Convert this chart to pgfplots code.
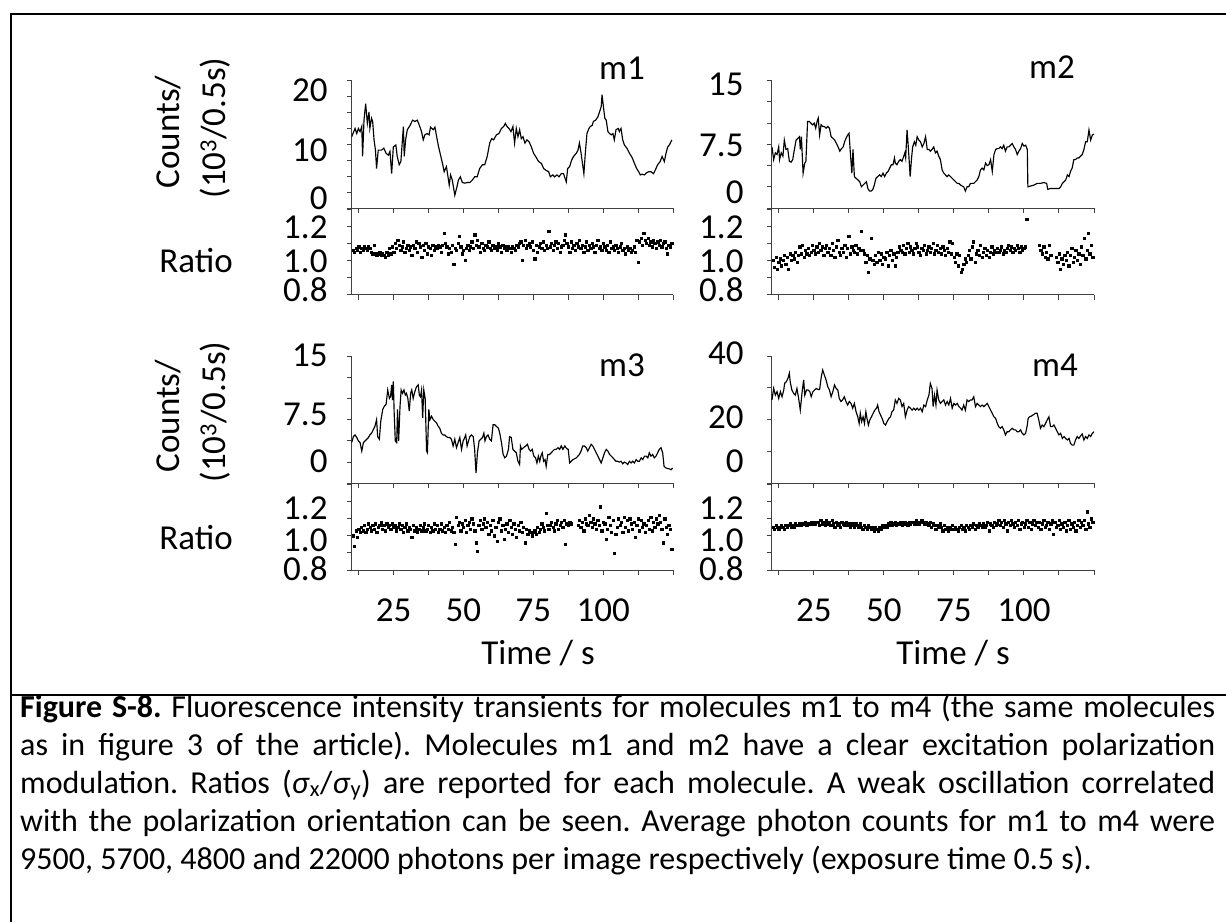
\documentclass[border=0pt]{standalone}
\usepackage{pgfplots}
\pgfplotsset{compat=1.18}
\usepackage{fontspec}
\setmainfont{Carlito}
\newcommand\rb[2]{\raisebox{#1}[\height][\depth]{#2}}
\begin{document}
\begin{tikzpicture}
\pgfplotsset{
  panel/.style={scale only axis, anchor=north west, xmin=10, xmax=125,
    axis x line*=bottom, axis y line*=left,
    axis line style={line width=1pt, black!75, -},
    every tick/.style={line width=1pt, black!75},
    tick align=outside, major tick length=5pt,
    xtick={12.5,25,37.5,50,62.5,75,87.5,100,112.5,125},
    xticklabels={,,,,,,,,,},
    tick label style={font=\fontsize{35}{40}\selectfont},
    yticklabel style={anchor=east, inner sep=0pt},
    xticklabel style={anchor=center, inner sep=0pt, yshift=-35pt},
  },
  cnt/.style={panel, height=127.3pt},
  rat/.style={panel, height=85.7pt, ymin=0.8, ymax=1.3, ytick={0.8,0.9,1.0,1.1,1.2,1.3}},
  trace/.style={black, line width=1.15pt, mark=none},
  dots/.style={only marks, mark=square*, mark size=1.15pt, black},
}
\path[use as bounding box] (0,0) rectangle (1226pt,-922pt);
\draw[line width=2pt] (11pt,-922pt) -- (11pt,-14pt) -- (1226pt,-14pt);
\draw[line width=2pt] (11pt,-695pt) -- (1226pt,-695pt);

% ---------- m1 counts
\begin{axis}[cnt, at={(351.7pt,-80.7pt)}, width=321.3pt, ymin=0, ymax=20,
  ytick={0,2.5,5,7.5,10,12.5,15,17.5,20},
  yticklabels={\rb{10pt}{0},,,,\rb{-6pt}{10},,,,\rb{-10pt}{20}},
  yticklabel style={xshift=-19pt}]
\addplot[trace] coordinates {(10.0,11.2) (11.2,12.5) (11.8,11.7) (12.4,12.5) (13.0,12.0) (13.6,12.8) (13.9,8.1) (14.4,13.8) (15.0,16.4) (15.6,13.3) (16.2,15.1) (16.5,12.5) (17.1,14.1) (17.5,13.6) (18.0,10.7) (18.5,9.1) (18.9,6.2) (19.5,9.1) (20.7,9.1) (21.5,9.4) (22.3,8.6) (23.1,8.3) (23.7,8.9) (24.3,5.4) (24.9,9.6) (25.8,9.9) (26.3,8.1) (27.0,6.8) (27.6,7.3) (28.5,12.8) (28.8,8.1) (29.3,10.7) (29.9,12.3) (30.8,12.9) (31.8,13.8) (32.6,13.6) (33.5,13.8) (34.2,13.0) (35.0,12.0) (35.6,10.7) (36.2,11.5) (37.0,11.7) (37.7,11.5) (38.2,12.7) (39.2,12.3) (39.8,12.7) (40.4,11.2) (41.1,9.6) (41.8,8.3) (42.5,7.0) (43.1,5.7) (43.9,6.5) (44.3,5.4) (44.9,3.6) (45.4,5.2) (46.0,4.4) (46.9,2.0) (47.7,3.4) (48.2,4.4) (48.9,4.9) (49.6,4.0) (50.5,3.9) (51.3,4.0) (52.3,4.0) (53.2,4.4) (54.0,4.9) (54.9,4.9) (55.8,6.2) (56.8,6.8) (57.6,6.8) (58.5,8.1) (59.4,10.2) (60.1,10.9) (60.8,10.7) (61.8,11.5) (62.7,11.7) (63.6,12.5) (64.4,12.8) (65.0,13.3) (65.6,12.8) (66.3,12.5) (67.0,12.0) (67.7,12.8) (68.3,10.2) (68.9,12.5) (69.5,11.2) (70.1,12.3) (70.7,10.9) (71.3,11.2) (72.0,10.2) (72.7,10.7) (73.5,10.4) (74.3,9.6) (75.1,8.6) (76.1,7.9) (76.9,7.3) (77.9,7.0) (78.7,6.2) (79.6,5.9) (80.5,5.7) (81.1,4.9) (82.0,5.2) (82.6,4.9) (83.5,5.2) (84.2,4.9) (85.0,5.4) (85.8,5.4) (86.8,4.1) (87.3,6.2) (88.0,6.5) (88.7,7.5) (89.4,8.1) (90.4,8.6) (91.0,9.1) (91.5,10.2) (92.1,8.6) (93.1,5.4) (93.7,9.1) (94.2,11.7) (94.9,12.5) (95.4,12.8) (96.1,13.0) (96.5,13.6) (97.3,13.8) (98.1,14.3) (98.7,15.1) (99.3,15.9) (99.6,17.8) (100.1,15.9) (100.6,14.1) (101.1,13.8) (101.7,12.0) (102.3,11.7) (102.9,11.5) (103.5,11.7) (104.0,10.7) (104.6,12.3) (105.4,12.5) (105.8,12.0) (106.4,12.5) (107.0,10.7) (107.6,9.9) (108.5,9.4) (109.4,8.6) (110.4,7.9) (111.2,7.0) (112.0,6.2) (112.7,5.7) (113.3,5.2) (113.9,5.3) (114.8,5.2) (115.4,5.5) (116.3,5.7) (117.1,5.7) (118.0,5.4) (118.7,6.0) (119.5,6.8) (120.4,7.3) (121.1,8.1) (121.9,7.3) (122.5,8.6) (123.1,9.6) (123.7,9.9) (124.6,10.7)};
\end{axis}

% ---------- m1 ratio
\begin{axis}[rat, at={(351.7pt,-209pt)}, width=321.3pt,
  yticklabels={\rb{5pt}{0.8},,\rb{-1pt}{1.0},,\rb{-1pt}{1.2},},
  yticklabel style={xshift=-19pt}]
\addplot[dots] coordinates {
(10.5,1.06)(11,1.05)(11.5,1.07)(12,1.06)(12.5,1.08)(13,1.05)(13.5,1.07)(14,1.06)(14.5,1.08)(15,1.07)
(15.5,1.06)(16,1.08)(16.5,1.07)(17,1.05)(17.5,1.04)(18,1.09)(18.5,1.04)(19,1.03)(19.5,1.04)(20,1.05)
(20.5,1.03)(21,1.04)(21.5,1.03)(22,1.02)(22.5,1.05)(23,1.03)(23.5,1.07)(24,1.04)(24.5,1.08)(25,1.05)
(25.5,1.10)(26,1.07)(26.5,1.12)(27,1.09)(27.5,1.06)(28,1.08)(28.5,1.11)(29,1.05)(29.5,1.07)(30,1.09)
(30.5,1.06)(31,1.08)(31.5,1.03)(32,1.09)(32.5,1.07)(33,1.11)(33.5,1.05)(34,1.10)(34.5,1.08)(35,1.02)
(35.5,1.09)(36,1.06)(36.5,1.10)(37,1.04)(37.5,1.08)(38,1.07)(38.5,1.03)(39,1.09)(39.5,1.06)(40,1.08)
(40.5,1.07)(41,1.09)(41.5,1.08)(42,1.05)(42.5,1.09)(43,1.16)(43.5,1.10)(44,1.08)(44.5,1.04)(45,1.07)
(45.5,1.05)(46,1.09)(46.5,0.98)(47,1.07)(47.5,1.06)(48,1.10)(48.5,1.14)(49,1.08)(49.5,1.04)(50,1.06)
(50.5,1.00)(51,1.07)(51.5,1.09)(52,1.06)(52.5,1.08)(53,1.11)(53.5,1.07)(54,1.15)(54.5,1.09)(55,1.12)
(55.5,1.08)(56,1.05)(56.5,1.10)(57,1.07)(57.5,1.06)(58,1.09)(58.5,1.08)(59,1.11)(59.5,1.07)(60,1.06)
(60.5,1.09)(61,1.07)(61.5,1.08)(62,1.06)(62.5,1.10)(63,1.08)(63.5,1.05)(64,1.09)(64.5,1.07)(65,1.08)
(65.5,1.06)(66,1.08)(66.5,1.07)(67,1.05)(67.5,1.08)(68,1.07)(68.5,1.06)(69,1.09)(69.5,1.08)(70,1.10)
(70.5,1.11)(71,1.00)(71.5,1.09)(72,1.12)(72.5,1.07)(73,1.09)(73.5,1.10)(74,1.08)(74.5,1.11)(75,1.06)
(75.5,1.01)(76,1.09)(76.5,1.05)(77,1.08)(77.5,1.10)(78,1.07)(78.5,1.11)(79,1.06)(79.5,1.09)(80,1.07)
(80.5,1.17)(81,1.08)(81.5,1.10)(82,1.06)(82.5,1.09)(83,1.11)(83.5,1.07)(84,1.10)(84.5,1.05)(85,1.08)
(85.5,1.09)(86,1.12)(86.5,1.15)(87,1.10)(87.5,1.08)(88,1.05)(88.5,1.11)(89,1.07)(89.5,1.09)(90,1.06)
(90.5,1.10)(91,1.08)(91.5,1.12)(92,1.07)(92.5,1.09)(93,1.05)(93.5,1.08)(94,1.11)(94.5,1.06)(95,1.09)
(95.5,1.07)(96,1.10)(96.5,1.08)(97,1.05)(97.5,1.09)(98,1.12)(98.5,1.07)(99,1.08)(99.5,1.06)(100,1.10)
(100.5,1.08)(101,1.06)(101.5,1.09)(102,1.05)(102.5,1.11)(103,1.07)(103.5,1.08)(104,1.06)(104.5,1.09)(105,1.07)
(105.5,1.05)(106,1.08)(106.5,1.10)(107,1.06)(107.5,1.07)(108,1.04)(108.5,1.08)(109,1.06)(109.5,1.07)(110,1.05)
(110.5,1.06)(111,1.08)(111.5,1.05)(112,1.12)(112.5,0.99)(113,1.11)(113.5,1.13)(114,1.09)(114.5,1.16)(115,1.12)
(115.5,1.10)(116,1.13)(116.5,1.09)(117,1.11)(117.5,1.08)(118,1.12)(118.5,1.10)(119,1.07)(119.5,1.11)(120,1.09)
(120.5,1.12)(121,1.08)(121.5,1.10)(122,1.11)(122.5,1.07)(123,1.04)(123.5,1.09)(124,1.08)(124.5,1.10)};
\end{axis}

% ---------- m2 counts
\begin{axis}[cnt, at={(771.7pt,-80.7pt)}, width=322.3pt, ymin=0, ymax=15,
  ytick={0,2.5,5,7.5,10,12.5,15},
  yticklabels={\rb{16pt}{0},,,\rb{-1pt}{7.5},,,\rb{-4pt}{15}},
  yticklabel style={xshift=-23pt}]
\addplot[trace] coordinates {(10.1,7.2)(10.7,5.7)(11.3,6.5)(11.9,6.3)(12.5,7.2)(12.8,5.7)(13.4,6.5)(14.0,6.1)(14.5,8.0)(15.1,6.9)(15.7,7.0)(16.3,5.5)(16.9,5.4)(17.5,5.7)(18.1,6.9)(18.7,8.0)(19.3,8.2)(19.9,8.4)(20.2,6.9)(20.6,8.4)(21.2,4.1)(21.8,5.3)(22.2,5.5)(22.8,10.2)(23.4,10.2)(24.0,10.0)(24.6,9.8)(25.2,10.0)(25.7,9.4)(26.2,10.2)(26.6,10.6)(27.1,8.6)(27.6,9.8)(28.2,9.6)(28.8,9.6)(29.4,9.4)(30.0,9.6)(30.6,9.4)(31.2,8.4)(31.9,8.2)(32.5,8.0)(33.1,7.6)(33.7,7.2)(34.3,6.7)(34.9,7.0)(35.5,7.2)(36.0,7.8)(36.5,8.2)(37.1,8.6)(37.6,8.8)(38.1,6.3)(38.6,4.1)(39.0,6.9)(39.5,3.7)(40.1,3.5)(40.8,3.3)(41.4,3.1)(42.0,2.5)(42.6,2.7)(43.2,2.9)(43.8,3.1)(44.3,2.3)(44.9,2.0)(45.5,2.0)(46.1,2.2)(46.6,2.7)(47.2,3.5)(47.8,3.7)(48.5,3.9)(49.1,3.7)(49.7,4.1)(50.3,3.7)(50.9,4.1)(51.5,4.3)(52.1,4.7)(52.7,5.1)(53.3,5.1)(53.8,5.9)(54.1,5.3)(54.7,5.1)(55.3,5.5)(55.9,5.7)(56.5,5.5)(57.1,6.1)(57.5,6.5)(57.8,5.9)(58.3,9.2)(58.8,6.9)(59.4,3.7)(59.9,5.9)(60.3,7.2)(60.9,7.8)(61.4,7.4)(61.9,8.4)(62.5,8.0)(63.1,7.8)(63.7,7.2)(64.3,7.6)(64.9,8.4)(65.5,6.9)(66.1,6.9)(66.6,6.7)(67.2,6.9)(67.8,7.2)(68.4,6.5)(69.0,6.7)(69.6,6.1)(70.2,5.7)(70.8,4.5)(71.4,4.1)(72.0,3.9)(72.6,3.7)(73.2,3.9)(73.8,3.7)(74.4,3.5)(75.0,3.3)(75.6,3.1)(76.2,2.9)(76.8,2.9)(77.4,2.7)(77.9,2.6)(78.5,2.5)(79.1,2.0)(79.7,2.5)(80.3,2.5)(80.9,2.9)(81.5,2.9)(82.1,2.9)(82.7,3.1)(83.3,3.3)(83.9,3.7)(84.5,4.5)(85.1,4.7)(85.7,4.5)(86.3,5.3)(86.9,5.0)(87.5,5.1)(88.1,5.7)(88.7,4.3)(89.3,6.3)(89.9,6.9)(90.5,7.0)(91.0,7.0)(91.6,7.2)(92.2,7.0)(92.8,7.4)(93.4,6.7)(94.0,7.2)(94.6,7.2)(95.2,7.4)(95.8,7.6)(96.4,7.2)(97.0,6.9)(97.6,6.3)(98.2,6.7)(98.8,7.0)(99.4,7.6)(100.0,7.3)(100.6,7.4)(101.2,6.9)(101.4,2.5)(102.4,2.6)(103.6,2.7)(104.7,2.9)(105.9,2.9)(107.1,3.0)(108.1,2.9)(108.5,2.2)(109.5,2.3)(110.7,2.3)(111.9,2.3)(112.5,2.3)(113.1,2.5)(113.7,2.9)(114.3,3.1)(114.9,3.3)(115.5,3.9)(116.1,3.7)(116.6,4.3)(117.2,4.7)(117.8,5.7)(118.4,5.7)(119.0,5.9)(119.6,5.9)(120.2,6.1)(120.8,6.3)(121.4,6.9)(122.0,7.8)(122.6,7.8)(123.2,9.2)(123.8,8.0)(124.4,8.6)(125.0,8.7)};
\end{axis}

% ---------- m2 ratio
\begin{axis}[rat, at={(771.7pt,-209pt)}, width=322.3pt,
  yticklabels={\rb{5pt}{0.8},,\rb{-1pt}{1.0},,\rb{-1pt}{1.2},},
  yticklabel style={xshift=-23pt}]
\addplot[dots] coordinates {
(10.5,1.00)(11,0.96)(11.5,1.02)(12,0.95)(12.5,0.99)(13,1.01)(13.5,0.97)(14,1.00)(14.5,1.03)(15,0.98)
(15.5,1.02)(16,0.95)(16.5,1.04)(17,1.00)(17.5,1.03)(18,1.01)(18.5,1.05)(19,0.99)(19.5,1.03)(20,1.08)
(20.5,1.04)(21,1.09)(21.5,1.02)(22,1.06)(22.5,1.04)(23,1.07)(23.5,1.03)(24,1.05)(24.5,1.09)(25,1.06)
(25.5,1.04)(26,1.08)(26.5,1.05)(27,1.10)(27.5,1.06)(28,1.08)(28.5,1.03)(29,1.07)(29.5,1.09)(30,1.05)
(30.5,1.07)(31,1.03)(31.5,1.10)(32,1.06)(32.5,1.02)(33,1.08)(33.5,1.12)(34,1.05)(34.5,1.03)(35,1.07)
(35.5,1.05)(36,1.09)(36.5,1.02)(37,1.07)(37.5,1.14)(38,1.04)(38.5,1.08)(39,1.06)(39.5,1.05)(40,1.09)
(40.5,1.04)(41,1.07)(41.5,1.06)(42,1.17)(42.5,1.06)(43,1.04)(43.5,0.99)(44,1.03)(44.5,0.93)(45,1.01)
(45.5,1.13)(46,1.00)(46.5,0.98)(47,1.03)(47.5,0.99)(48,1.05)(48.5,1.00)(49,1.04)(49.5,0.98)(50,1.02)
(50.5,1.01)(51,1.05)(51.5,0.97)(52,1.03)(52.5,1.06)(53,1.00)(53.5,1.04)(54,0.97)(54.5,1.02)(55,1.05)
(55.5,1.08)(56,1.06)(56.5,1.05)(57,1.09)(57.5,1.04)(58,1.07)(58.5,1.10)(59,1.05)(59.5,1.08)(60,1.06)
(60.5,1.04)(61,1.07)(61.5,1.10)(62,1.08)(62.5,1.05)(63,1.03)(63.5,1.07)(64,1.06)(64.5,1.09)(65,1.04)
(65.5,1.06)(66,1.08)(66.5,1.05)(67,1.07)(67.5,1.10)(68,1.04)(68.5,1.06)(69,1.09)(69.5,1.05)(70,1.07)
(70.5,1.04)(71,1.08)(71.5,1.06)(72,1.03)(72.5,1.07)(73,1.05)(73.5,1.11)(74,1.04)(74.5,1.10)(75,1.02)
(75.5,0.99)(76,1.04)(76.5,0.97)(77,1.03)(77.5,0.93)(78,0.95)(78.5,0.98)(79,1.01)(79.5,0.99)(80,1.03)
(80.5,1.06)(81,1.01)(81.5,1.08)(82,1.11)(82.5,0.99)(83,1.04)(83.5,1.06)(84,1.03)(84.5,1.09)(85,1.02)
(85.5,1.05)(86,1.07)(86.5,1.03)(87,1.06)(87.5,1.02)(88,1.05)(88.5,1.08)(89,1.04)(89.5,1.06)(90,1.05)
(90.5,1.07)(91,1.05)(91.5,1.06)(92,1.08)(92.5,1.04)(93,1.06)(93.5,1.05)(94,1.07)(94.5,1.09)(95,1.06)
(95.5,1.08)(96,1.05)(96.5,1.07)(97,1.06)(97.5,1.09)(98,1.07)(98.5,1.05)(99,1.08)(99.5,1.06)(100,1.07)
(100.5,1.08)(101,1.24)
(105.5,1.09)(106,1.06)(106.5,1.04)(107,1.08)(107.5,1.02)(108,1.05)(108.5,1.01)(109,1.09)(109.5,1.03)
(111.5,1.02)(112,0.99)(112.5,1.04)(113,0.95)(113.5,1.01)(114,0.98)(114.5,1.03)(115,1.00)
(115.5,1.05)(116,0.97)(116.5,1.03)(117,1.07)(117.5,0.99)(118,1.02)(118.5,1.06)(119,1.00)(119.5,1.04)(120,0.98)
(120.5,1.08)(121,1.03)(121.5,1.13)(122,1.01)(122.5,1.06)(123,1.16)(123.5,1.04)(124,1.09)(124.5,1.02)};
\end{axis}

% ---------- m3 counts
\begin{axis}[cnt, at={(351.7pt,-356pt)}, width=321.3pt, ymin=0, ymax=15,
  ytick={0,2.5,5,7.5,10,12.5,15},
  yticklabels={\rb{22pt}{0},,,\rb{5pt}{7.5},,,\rb{1pt}{15}},
  yticklabel style={xshift=-19pt}]
\addplot[trace] coordinates {(10.0,4.8)(10.6,5.5)(11.2,5.7)(11.8,5.4)(12.4,5.0)(13.0,4.8)(13.6,3.8)(14.2,4.8)(14.8,5.0)(15.4,5.2)(16.0,5.4)(16.5,5.7)(17.1,5.9)(17.7,6.3)(18.3,6.7)(18.9,7.5)(19.3,5.5)(19.9,5.2)(20.4,7.3)(21.1,8.7)(21.7,9.1)(22.3,9.3)(22.9,11.0)(23.5,10.0)(23.9,10.2)(24.3,11.6)(24.6,9.8)(24.9,12.0)(25.2,8.3)(25.6,5.0)(26.1,4.8)(26.4,8.7)(26.8,5.0)(27.3,9.1)(27.7,11.0)(28.2,10.6)(28.7,11.0)(29.2,10.4)(29.6,10.6)(30.1,10.0)(30.6,8.5)(31.1,10.6)(31.5,11.0)(32.0,10.0)(32.6,10.8)(33.2,11.4)(33.8,11.6)(34.2,10.4)(34.6,10.2)(35.0,11.0)(35.4,7.7)(35.8,11.0)(36.3,10.0)(36.8,3.8)(37.1,3.6)(37.6,8.7)(38.0,7.5)(38.6,7.9)(39.2,7.5)(39.8,7.3)(40.4,7.1)(41.0,6.7)(41.5,6.5)(42.1,5.9)(42.7,5.7)(43.3,5.7)(43.9,5.5)(44.5,5.4)(45.1,5.4)(45.7,5.2)(46.3,4.4)(46.9,5.2)(47.5,4.2)(48.1,4.8)(48.7,5.4)(49.3,4.0)(49.9,5.0)(50.2,5.2)(50.8,5.7)(51.3,4.4)(51.8,5.0)(52.3,5.5)(52.9,5.7)(53.5,5.5)(54.0,4.0)(54.5,1.2)(55.0,3.6)(55.6,5.0)(56.2,5.2)(56.8,5.4)(57.3,5.9)(57.7,5.0)(58.2,5.5)(58.8,5.7)(59.4,5.2)(60.0,5.0)(60.6,6.9)(61.2,6.9)(61.8,6.7)(62.5,6.5)(63.0,5.9)(63.6,4.8)(64.2,3.4)(64.8,3.0)(65.4,3.2)(66.1,4.0)(66.5,5.5)(67.1,5.4)(67.7,4.0)(68.3,3.8)(68.9,3.6)(69.5,2.6)(70.1,2.2)(70.4,4.4)(70.8,4.0)(71.5,4.2)(72.3,4.4)(72.9,4.6)(73.5,4.0)(74.0,3.8)(74.6,4.0)(75.2,3.2)(75.8,3.0)(76.3,2.4)(76.8,3.2)(77.3,2.6)(77.7,3.2)(78.2,3.6)(78.7,2.6)(79.2,2.8)(79.6,2.0)(80.2,3.4)(80.8,3.4)(81.4,3.6)(82.0,3.8)(82.6,4.0)(83.2,4.0)(83.8,4.2)(84.4,4.0)(85.0,4.4)(85.6,4.0)(86.3,4.4)(86.9,4.1)(87.5,4.0)(88.0,2.4)(88.6,2.6)(89.2,2.8)(90.4,3.0)(91.5,3.4)(92.1,3.8)(92.7,4.4)(93.3,4.4)(93.9,4.2)(94.5,3.8)(95.1,4.2)(95.7,4.6)(96.3,4.4)(96.9,4.0)(97.5,3.6)(98.1,3.2)(98.7,2.8)(99.3,2.4)(99.9,3.0)(100.5,3.6)(101.1,4.0)(101.7,3.8)(102.3,3.4)(102.9,3.2)(103.5,3.0)(104.0,2.8)(104.6,2.6)(105.2,2.6)(105.8,2.5)(106.4,2.6)(107.0,2.3)(107.6,2.5)(108.2,2.4)(108.8,2.2)(109.4,2.6)(110.0,2.4)(110.6,2.6)(111.2,2.4)(111.8,2.8)(112.4,2.6)(113.0,2.6)(113.6,3.0)(114.2,2.8)(114.8,3.2)(115.4,3.2)(116.0,3.0)(116.5,3.6)(117.1,3.2)(117.7,3.4)(118.3,3.0)(118.9,3.2)(119.5,3.6)(120.1,4.0)(120.7,4.2)(121.3,3.6)(121.8,2.0)(122.5,1.8)(123.7,1.7)(124.3,1.6)(124.9,1.8)};
\end{axis}

% ---------- m3 ratio
\begin{axis}[rat, at={(351.7pt,-484.3pt)}, width=321.3pt,
  yticklabels={\rb{1pt}{0.8},,\rb{-5pt}{1.0},,\rb{-7pt}{1.2},},
  xticklabels={,25,,50,,75,,100,,},
  yticklabel style={xshift=-19pt}]
\addplot[dots] coordinates {
(10.5,1.00)(11,0.94)(11.5,1.03)(12,0.99)(12.5,1.04)(13,1.02)(13.5,1.05)(14,1.03)(14.5,1.06)(15,1.02)
(15.5,1.04)(16,1.07)(16.5,1.05)(17,1.03)(17.5,1.06)(18,1.04)(18.5,1.07)(19,1.02)(19.5,1.05)(20,1.06)
(20.5,1.08)(21,1.04)(21.5,1.06)(22,1.03)(22.5,1.07)(23,1.05)(23.5,1.06)(24,1.04)(24.5,1.07)(25,1.05)
(25.5,1.06)(26,1.03)(26.5,1.05)(27,1.07)(27.5,1.04)(28,1.06)(28.5,1.02)(29,1.05)(29.5,1.07)(30,1.03)
(30.5,1.05)(31,1.04)(31.5,0.99)(32,1.06)(32.5,1.03)(33,1.05)(33.5,1.02)(34,1.04)(34.5,1.06)(35,1.03)
(35.5,1.05)(36,1.07)(36.5,1.03)(37,1.04)(37.5,1.06)(38,1.02)(38.5,1.05)(39,1.03)(39.5,1.07)(40,1.04)
(40.5,1.06)(41,1.02)(41.5,1.04)(42,1.07)(42.5,1.03)(43,1.05)(43.5,1.02)(44,1.06)(44.5,1.04)(45,1.08)
(45.5,1.03)(46,1.05)(46.5,1.02)(47,0.95)(47.5,1.11)(48,1.06)(48.5,1.08)(49,1.03)(49.5,1.07)(50,1.05)
(50.5,1.09)(51,1.02)(51.5,1.06)(52,1.08)(52.5,1.04)(53,1.10)(53.5,1.07)(54,1.03)(54.5,0.96)(55,0.91)
(55.5,1.06)(56,1.09)(56.5,1.04)(57,1.07)(57.5,1.10)(58,1.05)(58.5,1.08)(59,1.01)(59.5,1.06)(60,1.03)
(60.5,1.09)(61,1.00)(61.5,1.05)(62,0.97)(62.5,1.08)(63,1.10)(63.5,1.03)(64,1.06)(64.5,0.98)(65,1.04)
(65.5,1.07)(66,1.02)(66.5,1.09)(67,1.05)(67.5,1.01)(68,1.07)(68.5,1.04)(69,0.99)(69.5,1.06)(70,1.03)
(70.5,1.08)(71,1.02)(71.5,1.05)(72,0.96)(72.5,1.04)(73,1.01)(73.5,1.03)(74,1.02)(74.5,1.00)(75,1.02)
(75.5,1.03)(76,1.01)(76.5,1.05)(77,1.02)(77.5,1.04)(78,1.07)(78.5,1.05)(79,1.03)(79.5,1.13)(80,1.06)
(80.5,1.04)(81,1.06)(81.5,1.08)(82,1.05)(82.5,1.03)(83,1.07)(83.5,1.09)(84,1.04)(84.5,1.06)(85,1.08)
(85.5,1.05)(86,1.09)(86.5,0.95)(87,1.07)(87.5,1.06)(88,1.08)(88.5,1.07)
(91,1.06)(91.5,1.09)(92,1.05)(92.5,1.08)(93,1.03)(93.5,1.10)(94,1.07)(94.5,1.06)(95,1.12)
(95.5,1.08)(96,1.05)(96.5,1.10)(97,1.07)(97.5,1.04)(98,1.09)(98.5,1.06)(99,1.17)(99.5,1.03)(100,1.08)
(100.5,1.07)(101,0.98)(101.5,1.04)(102,1.11)(102.5,1.06)(103,1.02)(103.5,1.09)(104,0.90)(104.5,1.01)(105,1.05)
(105.5,1.10)(106,1.06)(106.5,1.08)(107,1.02)(107.5,1.11)(108,1.05)(108.5,1.09)(109,1.03)(109.5,1.10)(110,1.07)
(110.5,1.04)(111,1.08)(111.5,0.99)(112,1.06)(112.5,1.10)(113,1.03)(113.5,1.09)(114,1.05)(114.5,1.07)(115,1.02)
(115.5,1.06)(116,1.09)(116.5,1.04)(117,1.11)(117.5,1.03)(118,1.08)(118.5,1.05)(119,1.10)(119.5,1.07)(120,1.12)
(120.5,1.08)(121,1.04)(121.5,0.96)(122,1.10)(122.5,1.05)(123,1.01)(123.5,1.06)(124,1.04)(124.5,0.92)};
\end{axis}

% ---------- m4 counts
\begin{axis}[cnt, at={(771.7pt,-356pt)}, width=322.3pt, ymin=0, ymax=40,
  ytick={0,10,20,30,40},
  yticklabels={\rb{22pt}{0},,\rb{2pt}{20},,\rb{3pt}{40}},
  yticklabel style={xshift=-23pt}]
\addplot[trace] coordinates {(10.1,26.2)(10.7,29.8)(11.3,27.7)(11.9,28.8)(12.5,26.7)(13.1,28.8)(13.7,27.2)(14.3,29.3)(14.6,31.4)(15.2,31.9)(15.8,33.0)(16.3,34.6)(16.6,31.9)(17.2,29.3)(17.8,28.3)(18.4,27.7)(19.0,29.8)(19.6,26.7)(20.2,23.0)(20.8,28.3)(21.4,32.5)(21.8,27.7)(22.4,29.3)(23.0,29.3)(23.6,28.8)(24.1,27.2)(24.7,28.8)(25.3,29.3)(25.9,29.8)(26.5,29.5)(27.1,29.5)(27.7,33.5)(28.2,35.6)(28.8,34.0)(29.4,32.5)(30.0,30.4)(30.6,29.3)(31.2,27.2)(31.8,28.8)(32.4,30.9)(33.0,29.8)(33.6,29.3)(34.1,26.7)(34.7,25.7)(35.3,26.2)(35.9,27.2)(36.5,25.7)(37.1,24.6)(37.7,25.7)(38.3,25.1)(38.9,23.6)(39.5,25.1)(40.1,22.5)(40.7,20.9)(41.2,18.8)(41.6,22.0)(42.1,19.4)(42.6,20.9)(43.1,18.8)(43.6,22.5)(44.0,20.4)(44.5,18.3)(45.0,19.9)(45.6,20.9)(46.2,22.0)(46.8,23.0)(47.4,23.6)(47.8,24.6)(48.3,22.5)(48.8,21.5)(49.4,20.4)(50.0,18.8)(50.6,18.3)(51.2,19.4)(51.8,20.4)(52.4,20.9)(52.9,22.5)(53.5,23.0)(54.1,26.2)(54.7,25.1)(55.3,26.7)(55.9,26.2)(56.5,24.1)(57.1,25.1)(57.7,20.9)(58.3,23.0)(58.9,24.1)(59.5,23.6)(60.1,23.0)(60.7,23.6)(61.3,23.0)(61.9,23.6)(62.5,23.0)(63.1,23.6)(63.7,22.5)(64.3,24.6)(64.9,24.1)(65.5,26.2)(66.1,27.7)(66.6,31.4)(67.2,29.8)(67.6,24.1)(68.1,27.7)(68.6,24.6)(69.0,29.3)(69.6,26.2)(70.2,25.1)(70.8,25.7)(71.4,26.2)(72.0,24.6)(72.6,25.7)(73.2,24.6)(73.8,26.7)(74.4,23.6)(75.0,25.1)(75.6,24.6)(76.2,25.1)(76.8,24.1)(77.4,23.6)(77.9,23.0)(78.5,24.6)(79.1,23.0)(79.7,26.2)(80.3,25.7)(80.9,26.2)(81.5,26.2)(82.1,27.2)(82.7,24.1)(83.3,25.1)(83.9,24.6)(84.5,24.1)(85.1,24.6)(85.7,24.1)(86.3,24.6)(86.9,25.1)(87.5,24.1)(88.1,23.0)(88.7,22.0)(89.3,20.9)(89.9,20.4)(90.5,18.8)(91.0,17.8)(91.6,17.3)(92.2,17.8)(92.8,16.8)(93.4,15.2)(94.0,16.2)(94.6,16.2)(95.2,16.8)(95.8,17.3)(96.4,16.8)(97.0,16.8)(97.6,16.2)(98.2,16.2)(98.8,16.8)(99.4,15.7)(100.0,15.2)(100.6,15.7)(101.2,18.3)(101.5,20.4)(102.0,20.9)(102.6,21.1)(103.3,21.5)(104.1,22.0)(104.7,22.0)(105.3,19.9)(105.9,17.3)(106.5,18.3)(107.1,17.8)(107.7,18.8)(108.3,19.9)(108.9,20.9)(109.5,17.8)(110.1,17.8)(110.7,18.3)(111.3,17.3)(111.9,16.2)(112.5,15.2)(113.1,15.7)(113.7,14.1)(114.3,14.7)(114.9,14.1)(115.5,13.6)(116.1,14.1)(116.6,12.6)(117.2,12.0)(117.8,12.0)(118.4,13.6)(119.0,14.7)(119.6,14.1)(120.2,14.9)(120.8,15.5)(121.4,13.6)(122.0,14.7)(122.6,14.1)(123.2,15.2)(123.8,14.7)(124.4,15.7)(125.0,16.2)};
\end{axis}

% ---------- m4 ratio
\begin{axis}[rat, at={(771.7pt,-484.3pt)}, width=322.3pt,
  yticklabels={\rb{1pt}{0.8},,\rb{-5pt}{1.0},,\rb{-7pt}{1.2},},
  xticklabels={,25,,50,,75,,100,,},
  yticklabel style={xshift=-23pt}]
\addplot[dots] coordinates {
(10.5,1.05)(11,1.04)(11.5,1.06)(12,1.05)(12.5,1.04)(13,1.05)(13.5,1.06)(14,1.05)(14.5,1.04)(15,1.06)
(15.5,1.05)(16,1.06)(16.5,1.07)(17,1.05)(17.5,1.06)(18,1.05)(18.5,1.07)(19,1.06)(19.5,1.06)(20,1.07)
(20.5,1.06)(21,1.07)(21.5,1.07)(22,1.08)(22.5,1.06)(23,1.07)(23.5,1.07)(24,1.08)(24.5,1.07)(25,1.08)
(25.5,1.07)(26,1.08)(26.5,1.08)(27,1.06)(27.5,1.09)(28,1.07)(28.5,1.08)(29,1.06)(29.5,1.09)(30,1.07)
(30.5,1.08)(31,1.06)(31.5,1.09)(32,1.07)(32.5,1.05)(33,1.08)(33.5,1.06)(34,1.07)(34.5,1.05)(35,1.08)
(35.5,1.07)(36,1.06)(36.5,1.08)(37,1.06)(37.5,1.07)(38,1.05)(38.5,1.07)(39,1.06)(39.5,1.05)(40,1.07)
(40.5,1.06)(41,1.05)(41.5,1.07)(42,1.05)(42.5,1.04)(43,1.06)(43.5,1.05)(44,1.04)(44.5,1.06)(45,1.05)
(45.5,1.04)(46,1.05)(46.5,1.03)(47,1.05)(47.5,1.04)(48,1.03)(48.5,1.05)(49,1.04)(49.5,1.06)(50,1.05)
(50.5,1.06)(51,1.05)(51.5,1.07)(52,1.06)(52.5,1.08)(53,1.06)(53.5,1.07)(54,1.08)(54.5,1.06)(55,1.07)
(55.5,1.07)(56,1.08)(56.5,1.06)(57,1.07)(57.5,1.08)(58,1.07)(58.5,1.06)(59,1.08)(59.5,1.07)(60,1.08)
(60.5,1.08)(61,1.07)(61.5,1.09)(62,1.08)(62.5,1.07)(63,1.08)(63.5,1.09)(64,1.08)(64.5,1.07)(65,1.08)
(65.5,1.07)(66,1.06)(66.5,1.08)(67,1.05)(67.5,1.07)(68,1.06)(68.5,1.04)(69,1.06)(69.5,1.05)(70,1.07)
(70.5,1.05)(71,1.03)(71.5,1.06)(72,1.04)(72.5,1.05)(73,1.03)(73.5,1.05)(74,1.04)(74.5,1.06)(75,1.04)
(75.5,1.05)(76,1.04)(76.5,1.03)(77,1.05)(77.5,1.06)(78,1.04)(78.5,1.05)(79,1.03)(79.5,1.06)(80,1.05)
(80.5,1.04)(81,1.06)(81.5,1.05)(82,1.07)(82.5,1.04)(83,1.06)(83.5,1.05)(84,1.07)(84.5,1.06)(85,1.05)
(85.5,1.07)(86,1.05)(86.5,1.06)(87,1.08)(87.5,1.03)(88,1.07)(88.5,1.06)(89,1.05)(89.5,1.08)(90,1.06)
(90.5,1.07)(91,1.09)(91.5,1.06)(92,1.08)(92.5,1.05)(93,1.09)(93.5,1.07)(94,1.03)(94.5,1.08)(95,1.06)
(95.5,1.09)(96,1.07)(96.5,1.05)(97,1.08)(97.5,1.06)(98,1.09)(98.5,1.04)(99,1.07)(99.5,1.08)(100,1.05)
(100.5,1.07)(101,1.09)(101.5,1.05)(102,1.08)(102.5,1.04)(103,1.07)(103.5,1.09)(104,1.06)(104.5,1.08)(105,1.05)
(105.5,1.08)(106,1.04)(106.5,1.07)(107,1.09)(107.5,1.05)(108,1.06)(108.5,1.08)(109,1.04)(109.5,1.07)(110,1.09)
(110.5,1.01)(111,1.08)(111.5,1.05)(112,1.06)(112.5,1.09)(113,1.04)(113.5,1.07)(114,1.05)(114.5,1.08)(115,1.03)
(115.5,1.06)(116,1.09)(116.5,1.04)(117,1.07)(117.5,1.05)(118,1.08)(118.5,1.03)(119,1.06)(119.5,1.09)(120,1.05)
(120.5,1.08)(121,1.06)(121.5,1.09)(122,1.04)(122.5,1.14)(123,1.07)(123.5,1.05)(124,1.10)(124.5,1.08)};
\end{axis}

% ---------- labels
\begin{scope}[every node/.style={font=\fontsize{35}{40}\selectfont, inner sep=0pt}]
\node[rotate=90] at (168pt,-132pt) {Counts/};
\node[rotate=90] at (215pt,-128pt) {(10\textsuperscript{3}/0.5s)};
\node at (196pt,-261pt) {Ratio};
\node[rotate=90] at (168pt,-416pt) {Counts/};
\node[rotate=90] at (215pt,-412pt) {(10\textsuperscript{3}/0.5s)};
\node at (196pt,-538pt) {Ratio};
\node at (622pt,-68pt) {m1};
\node at (1052pt,-67pt) {m2};
\node at (622pt,-365pt) {m3};
\node at (1055pt,-365pt) {m4};
\node at (538pt,-653pt) {Time / s};
\node at (953pt,-653pt) {Time / s};
\end{scope}

\node[anchor=base west, text width=1195pt, align=justify, inner sep=0pt,
  font=\fontsize{32}{38}\selectfont] at (20pt,-717pt)
{\frenchspacing\textbf{Figure S-8.} Fluorescence intensity transients for molecules m1 to m4 (the same molecules\linebreak
as in figure 3 of the article). Molecules m1 and m2 have a clear excitation polarization\linebreak
modulation. Ratios (\textit{σ}\textsubscript{x}/\textit{σ}\textsubscript{y}) are reported for each molecule. A weak oscillation correlated\linebreak
with the polarization orientation can be seen. Average photon counts for m1 to m4 were\linebreak
9500, 5700, 4800 and 22000 photons per image respectively (exposure time 0.5 s).};
\end{tikzpicture}
\end{document}
